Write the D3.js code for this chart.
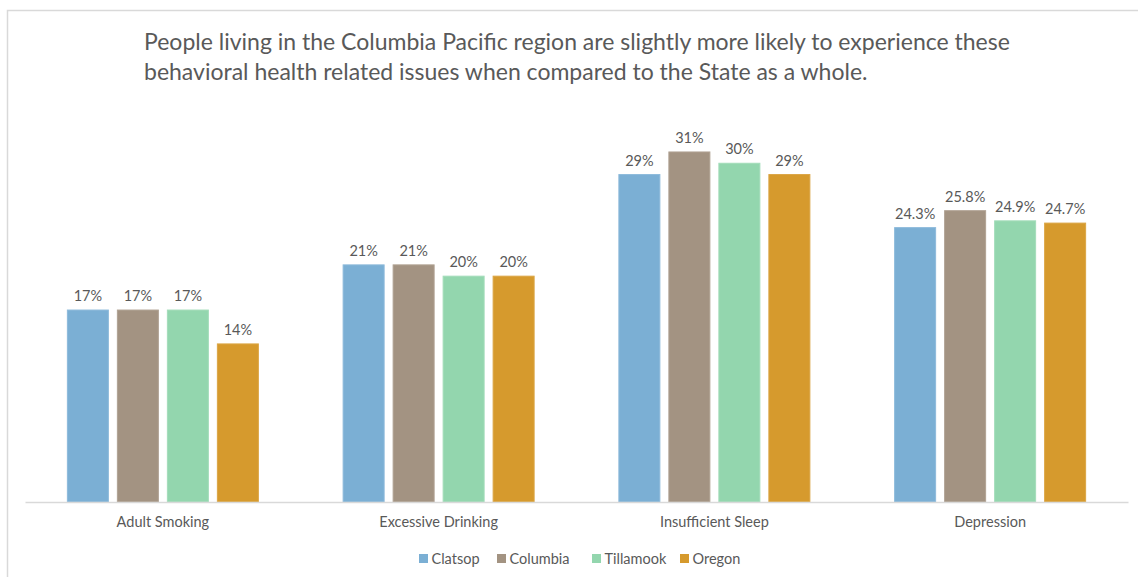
<!DOCTYPE html>
<html><head><meta charset="utf-8">
<script src="https://cdn.jsdelivr.net/npm/d3@7"></script>
<style>
html,body{margin:0;padding:0;background:#fff;}
svg{display:block;font-family:"Lato","Liberation Sans",sans-serif;}
</style></head>
<body>
<svg id="c" width="1138" height="577"></svg>
<script>
const categories = ["Adult Smoking","Excessive Drinking","Insufficient Sleep","Depression"];
const seriesNames = ["Clatsop","Columbia","Tillamook","Oregon"];
const clatsop   = [17, 21, 29, 24.3];
const columbia  = [17, 21, 31, 25.8];
const tillamook = [17, 20, 30, 24.9];
const oregon    = [14, 20, 29, 24.7];
const labelsClatsop   = ["17%","21%","29%","24.3%"];
const labelsColumbia  = ["17%","21%","31%","25.8%"];
const labelsTillamook = ["17%","20%","30%","24.9%"];
const labelsOregon    = ["14%","20%","29%","24.7%"];
const colors = ["#7BAFD4","#A39382","#93D6AE","#D69A2D"];
const strokes = ["#8DBADB","#B0A293","#A3DCBA","#DBA645"];
const titleLines = ["People living in the Columbia Pacific region are slightly more likely to experience these",
                    "behavioral health related issues when compared to the State as a whole."];

const series = [
  {name: seriesNames[0], values: clatsop, labels: labelsClatsop},
  {name: seriesNames[1], values: columbia, labels: labelsColumbia},
  {name: seriesNames[2], values: tillamook, labels: labelsTillamook},
  {name: seriesNames[3], values: oregon, labels: labelsOregon}
];

const svg = d3.select("#c");
const textColor = "#595959";

// outer chart border
svg.append("path").attr("d","M7.5,577 L7.5,10.5 L1138,10.5")
  .attr("fill","none").attr("stroke","#D9D9D9").attr("stroke-width",1.5);

// title
const title = svg.append("g");
titleLines.forEach((t,i)=>{
  title.append("text").attr("x",144).attr("y",50+i*30)
    .attr("fill",textColor).attr("font-size",21).text(t);
});
const firstLen = title.select("text").node().getComputedTextLength();
const fs = 21*866/firstLen;
title.selectAll("text").attr("font-size",fs);

const x0 = d3.scaleBand().domain(categories).range([25,1128]).paddingInner(0).paddingOuter(0);
const x1 = d3.scaleBand().domain(seriesNames).range([0,191]).paddingInner(0.18).paddingOuter(0);
const y = d3.scaleLinear().domain([0,35]).range([502,106.8]);

const groups = svg.append("g").selectAll("g").data(categories).join("g")
  .attr("transform",d=>`translate(${x0(d)+x0.bandwidth()/2-95.5},0)`);

series.forEach((s,si)=>{
  groups.append("rect")
    .attr("x",x1(s.name)).attr("width",x1.bandwidth())
    .attr("y",(d,i)=>y(s.values[i])).attr("height",(d,i)=>y(0)-y(s.values[i]))
    .attr("fill",colors[si]).attr("stroke",strokes[si]).attr("stroke-width",1);
  groups.append("text")
    .attr("x",x1(s.name)+x1.bandwidth()/2)
    .attr("y",(d,i)=>y(s.values[i])-9)
    .attr("text-anchor","middle").attr("font-size",14.5).attr("fill",textColor)
    .text((d,i)=>s.labels[i]);
});

// axis
const axis = svg.append("g").attr("transform","translate(0,502)")
  .call(d3.axisBottom(x0).tickSize(0).tickPadding(15));
axis.select(".domain").attr("stroke","#D9D9D9").attr("stroke-width",1.5);
axis.selectAll("text").attr("font-size",14.5).attr("fill",textColor)
  .attr("font-family","Lato, 'Liberation Sans', sans-serif");

// legend
const legendX = [419,497,592,680];
const lg = svg.append("g");
seriesNames.forEach((n,i)=>{
  lg.append("rect").attr("x",legendX[i]).attr("y",554).attr("width",9).attr("height",9).attr("fill",colors[i]);
  lg.append("text").attr("x",legendX[i]+12.5).attr("y",564).attr("font-size",14.5).attr("fill",textColor).text(n);
});
</script>
</body></html>
